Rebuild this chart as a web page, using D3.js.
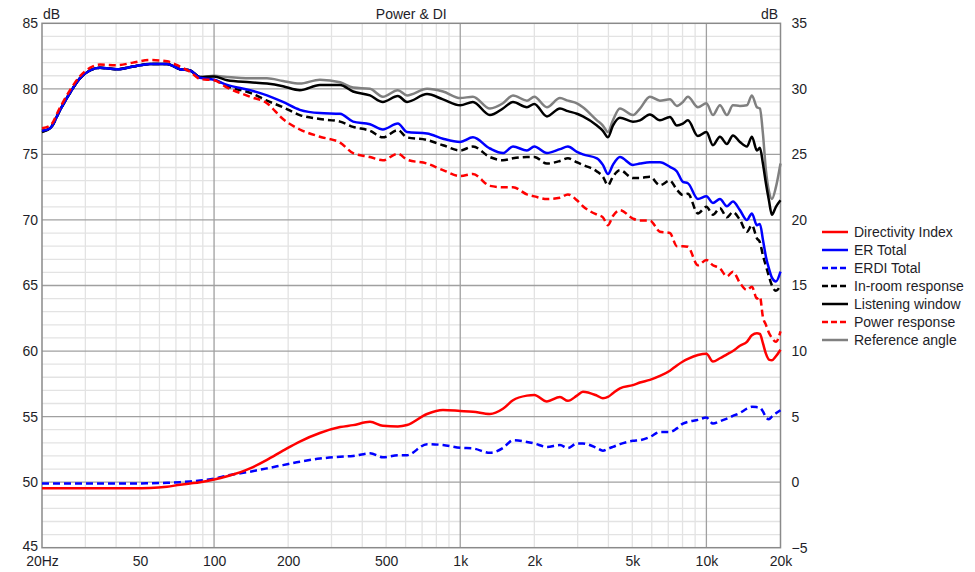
<!DOCTYPE html>
<html>
<head>
<meta charset="utf-8">
<script src="https://cdn.jsdelivr.net/npm/d3@7"></script>
<style>
  html, body { margin: 0; padding: 0; background: #fff; }
  svg { display: block; font-family: "Liberation Sans", Arial, sans-serif; }
</style>
</head>
<body>
<svg id="chart" width="975" height="572"></svg>
<script>
// ---------------- DATA ----------------
const freqs = [20, 21.6, 23.7, 26.0, 28.5, 31.3, 34.4, 40.3, 46.8, 54.9, 64.4, 72.7, 79.9, 87.7, 100,
  113, 140, 164, 190.5, 223, 269, 325, 367, 430, 485, 558, 608, 733, 851, 1000,
  1126, 1320, 1491, 1638, 1866, 2000, 2250, 2542, 2738, 2979, 3150, 3592, 3798, 3981, 4171,
  4454, 5030, 5371, 5896, 6474, 7109, 7590, 8028, 8412, 9237, 10000, 10630, 11350, 12116, 12816,
  13683, 14607, 15306, 16040, 16495, 16965, 17449, 17946, 18457, 19160, 20000];

const referenceAngle = [76.7, 77.0, 78.4, 79.7, 80.8, 81.4, 81.6, 81.5, 81.7, 81.9, 81.9, 81.5, 81.4, 80.9, 81.0,
  80.9, 80.8, 80.8, 80.6, 80.4, 80.7, 80.5, 80.1, 80.0, 79.4, 79.9, 79.5, 80.0, 79.8, 79.3,
  79.4, 78.5, 78.9, 79.5, 79.1, 79.4, 78.6, 79.3, 79.1, 78.9, 78.6, 77.6, 77.2, 76.7, 77.6,
  78.5, 78.0, 78.5, 79.4, 79.1, 79.2, 78.7, 79.0, 79.4, 78.6, 78.9, 78.0, 78.75, 78.0, 78.75,
  78.7, 78.75, 79.5, 78.6, 78.5, 76.6, 73.8, 72.2, 71.6, 72.5, 74.3];

const listeningWindow = [76.7, 77.0, 78.4, 79.7, 80.8, 81.4, 81.6, 81.5, 81.7, 81.9, 81.9, 81.5, 81.4, 80.9, 80.95,
  80.65, 80.5, 80.4, 80.2, 79.9, 80.3, 80.3, 79.8, 79.5, 79.0, 79.45, 79.0, 79.6, 79.2, 78.75,
  79.0, 78.0, 78.5, 79.0, 78.6, 78.85, 77.9, 78.5, 78.3, 78.1, 77.9, 77.2, 76.8, 76.3, 77.2,
  77.8, 77.5, 77.6, 78.05, 77.6, 77.85, 77.2, 77.35, 77.6, 76.4, 76.7, 75.7, 76.35, 75.8, 76.45,
  75.95, 75.6, 76.35, 75.3, 75.5, 74.3, 72.8, 71.5, 70.4, 71.0, 71.5];

const erTotal = [76.8, 77.0, 78.4, 79.7, 80.8, 81.4, 81.6, 81.5, 81.7, 81.9, 81.9, 81.5, 81.4, 80.85, 80.7,
  80.3, 79.9, 79.5, 79.0, 78.4, 78.15, 78.1, 77.5, 77.3, 76.9, 77.35, 76.7, 76.6, 76.2, 75.95,
  76.3, 75.45, 75.1, 75.6, 75.3, 75.6, 75.1, 75.4, 75.6, 75.2, 75.0, 74.7, 74.2, 73.5, 74.2,
  74.8, 74.2, 74.3, 74.4, 74.4, 74.05, 73.7, 72.9, 72.8, 71.6, 71.8, 71.3, 71.6, 71.05, 71.4,
  70.75, 70.0, 70.5, 69.6, 69.7, 68.5, 67.2, 66.3, 65.6, 65.3, 66.05];

const inRoom = [76.8, 77.0, 78.4, 79.7, 80.8, 81.4, 81.6, 81.5, 81.7, 81.9, 81.9, 81.5, 81.4, 80.85, 80.7,
  80.2, 79.7, 79.1, 78.6, 78.0, 77.7, 77.5, 77.1, 76.8, 76.3, 76.85, 76.3, 76.1, 75.7, 75.3,
  75.6, 74.8, 74.55, 74.7, 74.8, 74.8, 74.3, 74.5, 74.7, 74.4, 74.2, 73.7, 73.3, 72.65, 73.3,
  73.8, 73.2, 73.2, 73.3, 72.65, 73.0, 72.3, 71.9, 72.0, 70.5, 71.0, 70.4, 70.9, 70.2, 70.6,
  70.0, 69.1, 69.6, 68.6, 68.3, 67.3, 66.5, 65.7, 65.0, 64.6, 65.0];

const powerResponse = [77.0, 77.2, 78.6, 79.9, 80.95, 81.6, 81.85, 81.8, 82.0, 82.2, 82.1, 81.7, 81.3, 80.75, 80.65,
  80.1, 79.4, 78.9, 77.7, 76.9, 76.35, 75.9, 75.1, 74.8, 74.55, 75.05, 74.6, 74.3, 73.8, 73.35,
  73.5, 72.6, 72.5, 72.5, 71.95, 71.8, 71.6, 71.7, 71.95, 71.5, 71.05, 70.4, 70.2, 69.6, 70.3,
  70.75, 70.1, 69.95, 69.95, 69.1, 69.0, 68.0, 68.0, 67.95, 66.55, 66.95, 66.55, 66.3, 65.7, 66.05,
  65.2, 64.65, 64.9, 64.0, 64.15, 62.6, 62.0, 61.4, 61.0, 60.7, 61.5];

// right axis (DI) series
const directivityIndex = [-0.47, -0.47, -0.47, -0.47, -0.47, -0.47, -0.47, -0.47, -0.47, -0.45, -0.35, -0.2, -0.1, 0.0, 0.2,
  0.45, 1.05, 1.7, 2.4, 3.1, 3.75, 4.2, 4.35, 4.6, 4.3, 4.25, 4.36, 5.2, 5.5, 5.43,
  5.37, 5.2, 5.6, 6.25, 6.6, 6.65, 6.15, 6.5, 6.2, 6.6, 6.9, 6.6, 6.4, 6.5, 6.78,
  7.16, 7.4, 7.6, 7.8, 8.1, 8.5, 8.9, 9.2, 9.4, 9.7, 9.8, 9.2, 9.45, 9.75, 10.0,
  10.4, 10.7, 11.2, 11.35, 11.3, 10.6, 9.8, 9.35, 9.3, 9.6, 10.1];

const erdiTotal = [-0.1, -0.1, -0.1, -0.1, -0.1, -0.1, -0.1, -0.1, -0.1, -0.08, -0.05, 0.0, 0.05, 0.12, 0.27,
  0.5, 0.8, 1.05, 1.3, 1.56, 1.8, 1.94, 2.0, 2.2, 1.9, 2.05, 2.06, 2.9, 2.83, 2.62,
  2.57, 2.24, 2.6, 3.2, 3.07, 2.95, 2.69, 2.83, 2.6, 2.95, 2.95, 2.6, 2.4, 2.55, 2.69,
  2.9, 3.15, 3.2, 3.45, 3.83, 3.83, 4.1, 4.47, 4.6, 4.75, 4.93, 4.47, 4.65, 4.85, 5.05,
  5.28, 5.6, 5.75, 5.72, 5.69, 5.4, 4.95, 4.8, 5.0, 5.25, 5.49];

const xTickValues = [20, 50, 100, 200, 500, 1000, 2000, 5000, 10000, 20000];
const xTickLabels = ["20Hz", "50", "100", "200", "500", "1k", "2k", "5k", "10k", "20k"];
const yLeftTicks = [45, 50, 55, 60, 65, 70, 75, 80, 85];
const yRightTicks = [-5, 0, 5, 10, 15, 20, 25, 30, 35];

const legendNames = ["Directivity Index", "ER Total", "ERDI Total", "In-room response", "Listening window", "Power response", "Reference angle"];

// ---------------- CHART ----------------
const svg = d3.select("#chart");
const L = 42, R = 780.5, T = 23.3, B = 547.7;

const x = d3.scaleLog().domain([20, 20000]).range([L, R]);
const yL = d3.scaleLinear().domain([45, 85]).range([B, T]);
const yR = d3.scaleLinear().domain([-5, 35]).range([B, T]);

// grid
const grid = svg.append("g");
const minorX = [];
[10, 100, 1000].forEach(d => { for (let k = 2; k <= 9; k++) { const v = d * k; if (v > 20 && v < 20000) minorX.push(v); } });
const minorY = d3.range(45, 86, 1).filter(v => v % 5 !== 0);
grid.selectAll(".mx").data(minorX).join("line")
  .attr("x1", d => x(d)).attr("x2", d => x(d)).attr("y1", T).attr("y2", B)
  .attr("stroke", "#e3e3e3").attr("stroke-width", 1.3);
grid.selectAll(".my").data(minorY).join("line")
  .attr("x1", L).attr("x2", R).attr("y1", d => yL(d)).attr("y2", d => yL(d))
  .attr("stroke", "#e3e3e3").attr("stroke-width", 1.3);
grid.selectAll(".Mx").data([100, 1000, 10000]).join("line")
  .attr("x1", d => x(d)).attr("x2", d => x(d)).attr("y1", T).attr("y2", B)
  .attr("stroke", "#a0a0a0").attr("stroke-width", 1.3);
grid.selectAll(".My").data([50, 55, 60, 65, 70, 75, 80]).join("line")
  .attr("x1", L).attr("x2", R).attr("y1", d => yL(d)).attr("y2", d => yL(d))
  .attr("stroke", "#a0a0a0").attr("stroke-width", 1.3);
svg.append("rect").attr("x", L).attr("y", T).attr("width", R - L).attr("height", B - T)
  .attr("fill", "none").attr("stroke", "#8a8a8a").attr("stroke-width", 1.5);

// axes (text only)
const txtColor = "#1e1e28";
const xAxis = d3.axisBottom(x).tickValues(xTickValues).tickFormat((d, i) => xTickLabels[i]).tickSize(0).tickPadding(0);
const gx = svg.append("g").attr("transform", `translate(0,${B})`).call(xAxis);
gx.select(".domain").remove();
gx.selectAll("text").attr("font-size", 14).attr("fill", txtColor).attr("dy", null).attr("y", 18.5)
  .attr("font-family", "Liberation Sans, Arial, sans-serif");

const gyl = svg.append("g").attr("transform", `translate(${L},0)`)
  .call(d3.axisLeft(yL).tickValues(yLeftTicks).tickSize(0).tickPadding(4));
gyl.select(".domain").remove();
gyl.selectAll("text").attr("font-size", 14).attr("fill", txtColor).attr("font-family", "Liberation Sans, Arial, sans-serif");
gyl.selectAll(".tick").filter(d => d === 45).select("text").attr("dy", "0.2em");

const gyr = svg.append("g").attr("transform", `translate(${R},0)`)
  .call(d3.axisRight(yR).tickValues(yRightTicks).tickSize(0).tickPadding(11));
gyr.select(".domain").remove();
gyr.selectAll("text").attr("font-size", 14).attr("fill", txtColor).attr("font-family", "Liberation Sans, Arial, sans-serif");

svg.append("text").attr("x", 43).attr("y", 19).attr("font-size", 14).attr("fill", txtColor).text("dB");
svg.append("text").attr("x", 778).attr("y", 19).attr("font-size", 14).attr("fill", txtColor).attr("text-anchor", "end").text("dB");
svg.append("text").attr("x", (L + R) / 2).attr("y", 19).attr("font-size", 14).attr("fill", txtColor).attr("text-anchor", "middle").text("Power & DI");

// series
const series = [
  { name: "Reference angle", vals: referenceAngle, y: yL, color: "#808080", dash: null },
  { name: "Listening window", vals: listeningWindow, y: yL, color: "#000000", dash: null },
  { name: "In-room response", vals: inRoom, y: yL, color: "#000000", dash: "7,4" },
  { name: "ER Total", vals: erTotal, y: yL, color: "#0000ff", dash: null },
  { name: "Power response", vals: powerResponse, y: yL, color: "#ff0000", dash: "7,4" },
  { name: "ERDI Total", vals: erdiTotal, y: yR, color: "#0000ff", dash: "7,4" },
  { name: "Directivity Index", vals: directivityIndex, y: yR, color: "#ff0000", dash: null }
];

const plot = svg.append("g");
series.forEach(s => {
  const line = d3.line().x((d, i) => x(freqs[i])).y(d => s.y(d)).curve(d3.curveMonotoneX);
  plot.append("path").datum(s.vals).attr("d", line)
    .attr("fill", "none").attr("stroke", s.color).attr("stroke-width", 2.5)
    .attr("stroke-linejoin", "round")
    .attr("stroke-dasharray", s.dash);
});

// legend
const lg = svg.append("g");
legendNames.forEach((n, i) => {
  const s = series.find(d => d.name === n);
  const yy = 232 + i * 18;
  lg.append("line").attr("x1", 822).attr("x2", 848).attr("y1", yy).attr("y2", yy)
    .attr("stroke", s.color).attr("stroke-width", 2.5).attr("stroke-dasharray", s.dash ? "6,3" : null);
  lg.append("text").attr("x", 854).attr("y", yy + 5).attr("font-size", 14).attr("fill", txtColor).text(n);
});
</script>
</body>
</html>
